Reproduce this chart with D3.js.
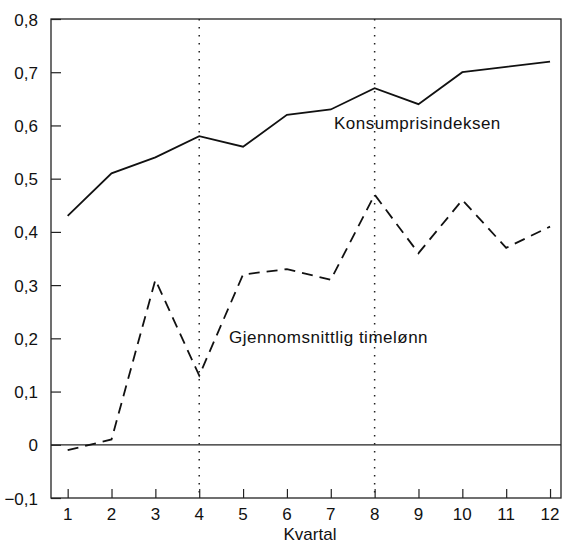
<!DOCTYPE html>
<html><head><meta charset="utf-8">
<script src="https://cdn.jsdelivr.net/npm/d3@7"></script>
<style>body{margin:0;background:#fff;} text{font-family:"Liberation Sans",Arial,sans-serif;fill:#111;}</style>
</head><body>
<svg id="c" width="564" height="545"></svg>
<script>
const quarters = [1,2,3,4,5,6,7,8,9,10,11,12];
const konsumprisindeksen = [0.43,0.51,0.54,0.58,0.56,0.62,0.63,0.67,0.64,0.70,0.71,0.72];
const timelonn = [-0.01,0.01,0.31,0.13,0.32,0.33,0.31,0.47,0.36,0.46,0.37,0.41];
const yTicks = [-0.1,0,0.1,0.2,0.3,0.4,0.5,0.6,0.7,0.8];
const markerQuarters = [4,8];

const svg = d3.select("#c");
const L=51,R=561,T=19,B=498;
const x = d3.scaleLinear().domain([0.62,12.25]).range([L,R]);
const y = d3.scaleLinear().domain([-0.1,0.8]).range([B,T]);
const fmt = d => d === 0 ? "0" : d3.format(".1f")(d).replace(".",",");

// frame
svg.append("rect").attr("x",L).attr("y",T).attr("width",R-L).attr("height",B-T)
  .attr("fill","none").attr("stroke","#222").attr("stroke-width",1.3);

// y axis ticks inward
const ya = svg.append("g").attr("transform",`translate(${L},0)`)
  .call(d3.axisRight(y).tickValues(yTicks).tickSize(10).tickFormat(""));
ya.select(".domain").remove();
ya.selectAll("line").attr("stroke","#222").attr("stroke-width",1.2);
svg.append("g").selectAll("text").data(yTicks).join("text")
  .attr("x",38).attr("y",d=>y(d)+6.5).attr("text-anchor","end")
  .attr("font-size",17).text(fmt);

// x axis ticks inward
const xa = svg.append("g").attr("transform",`translate(0,${B})`)
  .call(d3.axisTop(x).tickValues(quarters).tickSize(9).tickFormat(""));
xa.select(".domain").remove();
xa.selectAll("line").attr("stroke","#222").attr("stroke-width",1.2);
svg.append("g").selectAll("text").data(quarters).join("text")
  .attr("x",d=>x(d)).attr("y",520).attr("text-anchor","middle")
  .attr("font-size",17).text(d=>d);
svg.append("text").attr("x",310).attr("y",540).attr("text-anchor","middle")
  .attr("font-size",17).text("Kvartal");

// zero line
svg.append("line").attr("x1",L).attr("x2",R).attr("y1",y(0)).attr("y2",y(0))
  .attr("stroke","#222").attr("stroke-width",1.3);

// dotted verticals
svg.append("g").selectAll("line").data(markerQuarters).join("line")
  .attr("x1",d=>x(d)).attr("x2",d=>x(d)).attr("y1",T).attr("y2",B)
  .attr("stroke","#222").attr("stroke-width",1.5).attr("stroke-dasharray","1.5,6.5");

const line = d3.line().x((d,i)=>x(quarters[i])).y(d=>y(d));
svg.append("path").datum(konsumprisindeksen).attr("d",line)
  .attr("fill","none").attr("stroke","#111").attr("stroke-width",1.8);
svg.append("path").datum(timelonn).attr("d",line)
  .attr("fill","none").attr("stroke","#111").attr("stroke-width",1.8)
  .attr("stroke-dasharray","11,7");

svg.append("text").attr("x",334).attr("y",129).attr("font-size",17)
  .attr("letter-spacing",0.5).text("Konsumprisindeksen");
svg.append("text").attr("x",229).attr("y",343).attr("font-size",17)
  .attr("letter-spacing",0.5).text("Gjennomsnittlig timelønn");
</script>
</body></html>
